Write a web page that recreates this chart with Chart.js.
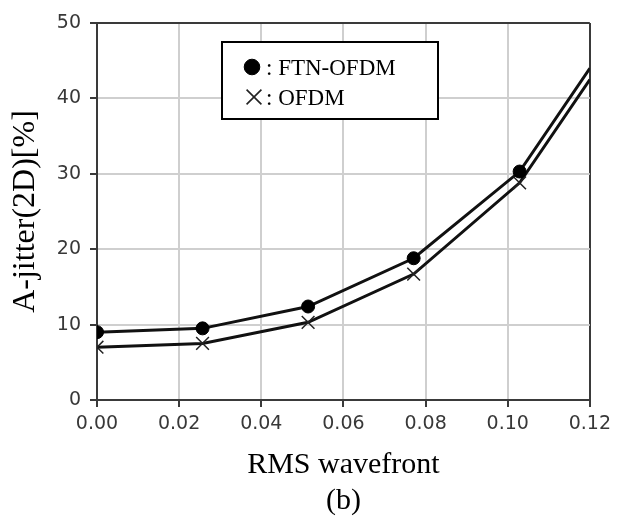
<!DOCTYPE html>
<html>
<head>
<meta charset="utf-8">
<script src="https://cdn.jsdelivr.net/npm/chart.js@4.4.0/dist/chart.umd.min.js"></script>
<style>
  html, body { margin: 0; padding: 0; background: #fff; }
  #wrap { width: 617px; height: 519px; }
</style>
</head>
<body>
<div id="wrap"><canvas id="jitterChart" width="617" height="519"></canvas></div>
<script>
// RMS wavefront samples; the last entry is where both curves leave the plot at x = 0.12
const rmsWavefront = [0, 0.0257, 0.0514, 0.0771, 0.1029, 0.12];
const jitterFtnOfdm = [9.0, 9.5, 12.4, 18.8, 30.3, 44.0];
const jitterOfdm = [7.0, 7.5, 10.3, 16.7, 28.8, 42.5];
const seriesNames = ['FTN-OFDM', 'OFDM'];
const xTicks = [0, 0.02, 0.04, 0.06, 0.08, 0.10, 0.12];
const yTicks = [0, 10, 20, 30, 40, 50];
const xTitle = 'RMS wavefront';
const yTitle = 'A-jitter(2D)[%]';
const panelLabel = '(b)';

const SERIF = "'Liberation Serif', 'Times New Roman', serif";
const SANS = "'DejaVu Sans', sans-serif";
const FRAME = '#3a3a3a';
const GRID = '#cfcfcf';
const TICK_TEXT = '#383838';

function toPoints(values) {
    return rmsWavefront.map((x, i) => ({ x: x, y: values[i] }));
}

// no marker on the edge point, the curve just runs into the frame
const lastIdx = rmsWavefront.length - 1;
const markerSize = (r) => rmsWavefront.map((_, i) => i === lastIdx ? 0 : r);

// legend drawn as a framed box inside the plot
const boxedLegend = {
    id: 'boxedLegend',
    afterDatasetsDraw(chart) {
        const { ctx, chartArea } = chart;
        const x0 = chartArea.left + 125;
        const y0 = chartArea.top + 19;
        const w = 216, h = 77;
        ctx.save();
        ctx.fillStyle = '#fff';
        ctx.fillRect(x0, y0, w, h);
        ctx.lineWidth = 2;
        ctx.strokeStyle = '#000';
        ctx.strokeRect(x0, y0, w, h);

        chart.data.datasets.forEach((ds, i) => {
            const cy = y0 + 25 + i * 30;
            ctx.fillStyle = ds.pointBackgroundColor;
            ctx.strokeStyle = ds.pointBorderColor;
            ctx.lineWidth = ds.legendMarker.borderWidth;
            Chart.helpers.drawPoint(ctx, {
                pointStyle: ds.pointStyle,
                radius: ds.legendMarker.radius,
                rotation: 0,
                borderWidth: ds.legendMarker.borderWidth
            }, x0 + 30 + i * 2, cy);

            ctx.fillStyle = '#000';
            ctx.font = '23px ' + SERIF;
            ctx.textBaseline = 'alphabetic';
            ctx.textAlign = 'left';
            ctx.fillText(': ' + ds.label, x0 + 44, cy + 8);
        });
        ctx.restore();
    }
};

const canvas = document.getElementById('jitterChart');
const ctx = canvas.getContext('2d');

const jitterChart = new Chart(ctx, {
    type: 'line',
    data: {
        datasets: [
            {
                label: seriesNames[0],
                data: toPoints(jitterFtnOfdm),
                borderColor: '#111',
                borderWidth: 3,
                pointStyle: 'circle',
                pointRadius: markerSize(6.5),
                pointBackgroundColor: '#000',
                pointBorderColor: '#000',
                pointBorderWidth: 1,
                tension: 0,
                legendMarker: { radius: 7.8, borderWidth: 1 }
            },
            {
                label: seriesNames[1],
                data: toPoints(jitterOfdm),
                borderColor: '#111',
                borderWidth: 3,
                pointStyle: 'crossRot',
                pointRadius: markerSize(9),
                pointBackgroundColor: '#222',
                pointBorderColor: '#222',
                pointBorderWidth: 1.5,
                tension: 0,
                legendMarker: { radius: 10.5, borderWidth: 1.6 }
            }
        ]
    },
    options: {
        responsive: false,
        animation: false,
        devicePixelRatio: 1,
        layout: { padding: { left: 0, top: 23, right: 24, bottom: 0 } },
        plugins: {
            legend: { display: false },
            tooltip: { enabled: false }
        },
        scales: {
            x: {
                type: 'linear',
                min: xTicks[0],
                max: xTicks[xTicks.length - 1],
                afterBuildTicks: (scale) => { scale.ticks = xTicks.map(v => ({ value: v })); },
                afterFit: (scale) => { scale.height = 119; },
                ticks: {
                    color: TICK_TEXT,
                    padding: 6,
                    maxRotation: 0,
                    font: { family: SANS, size: 19 },
                    callback: (v) => Number(v).toFixed(2)
                },
                grid: {
                    color: (c) => (c.tick && c.tick.value === xTicks[xTicks.length - 1]) ? FRAME : GRID,
                    lineWidth: 2,
                    tickColor: FRAME,
                    tickLength: 7,
                    tickWidth: 2
                },
                border: { color: FRAME, width: 2 },
                title: {
                    display: true,
                    // axis name with the panel tag on the line below
                    text: [xTitle, panelLabel],
                    color: '#000',
                    padding: { top: 0, bottom: 0 },
                    font: { family: SERIF, size: 30, weight: 'normal', lineHeight: 1.2 }
                }
            },
            y: {
                min: yTicks[0],
                max: yTicks[yTicks.length - 1],
                afterBuildTicks: (scale) => { scale.ticks = yTicks.map(v => ({ value: v })); },
                afterFit: (scale) => { scale.width = 97; },
                ticks: {
                    color: TICK_TEXT,
                    padding: 9,
                    font: { family: SANS, size: 19 }
                },
                grid: {
                    color: (c) => (c.tick && c.tick.value === yTicks[yTicks.length - 1]) ? FRAME : GRID,
                    lineWidth: 2,
                    tickColor: FRAME,
                    tickLength: 7,
                    tickWidth: 2
                },
                border: { color: FRAME, width: 2 },
                title: {
                    display: true,
                    text: yTitle,
                    color: '#000',
                    padding: { top: 6, bottom: 0 },
                    font: { family: SERIF, size: 32, weight: 'normal', lineHeight: 1.2 }
                }
            }
        }
    },
    plugins: [boxedLegend]
});
</script>
</body>
</html>
